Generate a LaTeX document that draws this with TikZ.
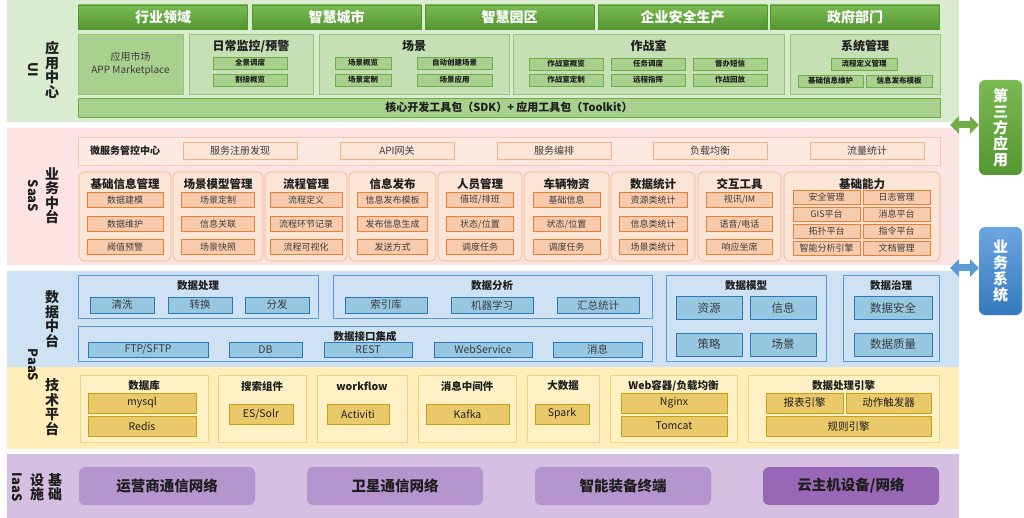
\documentclass[tikz,border=0pt]{standalone}
\usepackage{fontspec}
\setmainfont{Noto Sans CJK SC}
\usetikzlibrary{arrows.meta,shadows}

\definecolor{gband}{RGB}{218,236,208}
\definecolor{gpan}{RGB}{197,224,180}
\definecolor{gpanline}{RGB}{150,198,118}
\definecolor{gsub}{RGB}{169,209,142}
\definecolor{gsubline}{RGB}{112,173,71}
\definecolor{gtop}{RGB}{122,186,82}
\definecolor{gbot}{RGB}{84,150,50}
\definecolor{pband}{RGB}{253,228,228}
\definecolor{msfill}{RGB}{252,234,226}
\definecolor{msline}{RGB}{246,200,180}
\definecolor{ppan}{RGB}{251,229,214}
\definecolor{ppanline}{RGB}{244,177,131}
\definecolor{psub}{RGB}{248,203,173}
\definecolor{psubline}{RGB}{237,125,49}
\definecolor{bband}{RGB}{207,226,243}
\definecolor{bpanline}{RGB}{91,155,213}
\definecolor{bsub}{RGB}{150,200,226}
\definecolor{bsubline}{RGB}{46,117,182}
\definecolor{yband}{RGB}{255,238,186}
\definecolor{ypan}{RGB}{255,241,198}
\definecolor{ypanline}{RGB}{240,210,130}
\definecolor{ysub}{RGB}{233,201,106}
\definecolor{ysubline}{RGB}{200,160,20}
\definecolor{vband}{RGB}{214,192,226}
\definecolor{vsub}{RGB}{181,149,205}
\definecolor{vdark}{RGB}{152,104,182}
\definecolor{btop}{RGB}{108,166,224}
\definecolor{bbot}{RGB}{52,122,190}
\definecolor{txt}{RGB}{30,30,30}
\definecolor{subtxt}{RGB}{60,60,60}

\tikzset{
  every node/.style={inner sep=0pt, outer sep=0pt, text=txt},
  shd/.style={drop shadow={opacity=0.25, shadow xshift=0.8pt, shadow yshift=-0.8pt}},
  layer/.style={align=center, font=\fontsize{14}{14.5}\selectfont\bfseries},
  layerlat/.style={rotate=-90, font=\fontsize{13}{13}\selectfont\bfseries},
  hdr/.style={top color=gtop, bottom color=gbot, draw=gbot, text=white,
    minimum width=169, minimum height=24, font=\fontsize{14}{14}\selectfont\bfseries},
  gpanel/.style={fill=gpan, draw=gpanline, line width=0.8pt, minimum height=60},
  gtitle/.style={font=\fontsize{12}{12}\selectfont\bfseries},
  gbox/.style={fill=gsub, draw=gsubline, line width=0.6pt, minimum height=12,
    font=\fontsize{7.5}{7.5}\selectfont\bfseries},
  msbox/.style={fill=ppan, draw=ppanline, shd, minimum width=114, minimum height=17,
    text=subtxt, font=\fontsize{10}{10}\selectfont},
  ppanel/.style={fill=ppan, draw=ppanline, rounded corners=5pt, line width=0.6pt, minimum height=89},
  ptitle/.style={font=\fontsize{11.5}{11.5}\selectfont\bfseries},
  pbox/.style={fill=psub, draw=psubline, line width=0.8pt, minimum height=15,
    text=subtxt, font=\fontsize{9}{9}\selectfont},
  bpanel/.style={draw=bpanline, line width=0.6pt},
  btitle/.style={font=\fontsize{10.5}{10.5}\selectfont\bfseries},
  bbox/.style={fill=bsub, draw=bsubline, line width=0.8pt, shd, minimum height=16,
    text=subtxt, font=\fontsize{10.5}{10.5}\selectfont},
  ypanel/.style={fill=ypan, draw=ypanline, line width=0.6pt, minimum height=67},
  ytitle/.style={font=\fontsize{10.5}{10.5}\selectfont\bfseries},
  ybox/.style={fill=ysub, draw=ysubline, line width=0.8pt, shd, minimum height=20,
    font=\fontsize{10.5}{10.5}\selectfont},
  vbox/.style={fill=vsub, rounded corners=6pt, minimum width=176, minimum height=38,
    font=\fontsize{14.5}{14.5}\selectfont\bfseries},
  sidebox/.style={rounded corners=6pt, minimum width=43, align=center, text=white,
    font=\fontsize{15}{16}\selectfont\bfseries},
  sidearr/.style={line width=7pt, {Triangle[width=17pt,length=9pt]}-{Triangle[width=17pt,length=9pt]}}
}

\begin{document}
\begin{tikzpicture}[x=1pt,y=-1pt]
\useasboundingbox (0,0) rectangle (1024,518);

\fill[gband] (7,0) rectangle (959,122);
\fill[pband] (7,128) rectangle (959,265);
\fill[bband] (7,271) rectangle (959,367);
\fill[yband] (7,367) rectangle (959,449);
\fill[vband] (7,454) rectangle (959,518);

% layer names
\node[layer] (lapp) at (52,70) {应\\用\\中\\心};
\node[layerlat] (lui) at (33,70) {UI};
\node[layer] (lsaas) at (52,196) {业\\务\\中\\台};
\node[layerlat] (lsaaslat) at (33,196) {SaaS};
\node[layer] (ldata) at (52,319) {数\\据\\中\\台};
\node[layerlat] (lpaas) at (33,365) {PaaS};
\node[layer] (ltech) at (52,407) {技\\术\\平\\台};
\node[layer] (lbase) at (55,487) {基\\础};
\node[layer] (lfac) at (37,487) {设\\施};
\node[layerlat] (liaas) at (17,487) {IaaS};

% UI
\foreach \cx/\t [count=\i] in {163/行业领域,336.5/智慧城市,509.5/智慧园区,682.5/企业安全生产,855/政府部门}
  \node[hdr] (h\i) at (\cx,17) {\t};

\node[gpanel, fill=gsub, minimum width=105, align=center, text=subtxt,
  font=\fontsize{10}{12.5}\selectfont] (mkt) at (130.5,64) {应用市场\\APP Marketplace};

\foreach \cx/\w/\t [count=\i] in {251/124/{日常监控/预警},414/190/场景,648.5/271/作战室,865/150/系统管理}
{
  \node[gpanel, minimum width=\w] (p\i) at (\cx,64) {};
  \node[gtitle] (pt\i) at (\cx,46) {\t};
}

\foreach \cx/\cy/\w/\t [count=\i] in {250/63/74/全景调度,250/80/74/割接概览,
  363/63/56/场景概览,454.5/63/75/自动创建场景,363/80/56/场景定制,454.5/80/75/场景应用,
  566/64/74/作战室概览,648/64/74/任务调度,730/64/74/督办短信,
  566/80/74/作战室定制,648/80/74/远程指挥,730/80/74/作战回放,
  864/64/66/流程定义管理,830.5/81/65/基础信息维护,899/81/66/信息发布模板}
  \node[gbox, minimum width=\w] (g\i) at (\cx,\cy) {\t};

\node[gbox, minimum width=862, minimum height=19, font=\fontsize{11}{11}\selectfont\bfseries]
  (sdk) at (509,107.5) {核心开发工具包（SDK）+ 应用工具包（Toolkit）};

% SaaS
\node[fill=msfill, draw=msline, minimum width=862, minimum height=28] (ms) at (509,151) {};
\node[font=\fontsize{10}{10}\selectfont\bfseries] (mst) at (125,151) {微服务管控中心};
\foreach \cx/\t [count=\i] in {240/服务注册发现,397/API网关,554/服务编排,710/负载均衡,867/流量统计}
  \node[msbox] (ms\i) at (\cx,150.5) {\t};

\foreach \cx/\w/\bw/\ti/\a/\b/\c [count=\i] in {
  125/92/76/基础信息管理/数据建模/数据维护/阈值预警,
  218/90/73/场景模型管理/场景定制/信息关联/场景快照,
  306/82/72/流程管理/流程定义/流程环节记录/流程可视化,
  392.5/87/70/信息发布/信息发布模板/发布信息生成/发送方式,
  480/84/67/人员管理/{值班/排班}/{状态/位置}/调度任务,
  566.5/85/67/车辆物资/基础信息/{状态/位置}/调度任务,
  653/84/68/数据统计/资源类统计/信息类统计/场景类统计,
  739.5/83/66/交互工具/{视讯/IM}/{语音/电话}/响应坐席}
{
  \node[ppanel, minimum width=\w] (m\i) at (\cx,216.5) {};
  \node[ptitle] (mt\i) at (\cx,184) {\ti};
  \node[pbox, minimum width=\bw] (m\i a) at (\cx,200) {\a};
  \node[pbox, minimum width=\bw] (m\i b) at (\cx,224) {\b};
  \node[pbox, minimum width=\bw] (m\i c) at (\cx,247) {\c};
}

\node[ppanel, minimum width=156] (cap) at (862,216.5) {};
\node[ptitle] (capt) at (862,184) {基础能力};
\foreach \cx/\cy/\t [count=\i] in {826.5/197/安全管理,896.5/197/日志管理,826.5/214/GIS平台,896.5/214/消息平台,
  826.5/231/拓扑平台,896.5/231/指令平台,826.5/248/智能分析引擎,896.5/248/文档管理}
  \node[pbox, minimum width=67, minimum height=14] (cap\i) at (\cx,\cy) {\t};

% data
\node[bpanel, minimum width=240, minimum height=43] (dproc) at (198,296.5) {};
\node[btitle] (dproct) at (198,286) {数据处理};
\foreach \cx/\t [count=\i] in {122/清洗,200/转换,277/分发}
  \node[bbox, minimum width=64] (dp\i) at (\cx,305) {\t};

\node[bpanel, minimum width=319, minimum height=43] (dana) at (492.5,296.5) {};
\node[btitle] (danat) at (492,286) {数据分析};
\foreach \cx/\t [count=\i] in {386/索引库,492/机器学习,598/汇总统计}
  \node[bbox, minimum width=82] (da\i) at (\cx,305) {\t};

\node[bpanel, minimum width=574, minimum height=35] (dint) at (365,343.5) {};
\node[btitle] (dintt) at (365,336) {数据接口集成};
\foreach \cx/\w/\t [count=\i] in {148/120/{FTP/SFTP},265.5/73/DB,368/88/REST,483/98/WebService,597.5/89/消息}
  \node[bbox, minimum width=\w, minimum height=15] (di\i) at (\cx,349.5) {\t};

\node[bpanel, minimum width=160, minimum height=86] (dmod) at (746,318) {};
\node[btitle] (dmodt) at (746,286) {数据模型};
\foreach \cx/\cy/\t [count=\i] in {709/308/资源,783/308/信息,709/344.5/策略,783/344.5/场景}
  \node[bbox, minimum width=66, minimum height=23, font=\fontsize{11.5}{11.5}\selectfont] (dm\i) at (\cx,\cy) {\t};

\node[bpanel, minimum width=96, minimum height=86] (dgov) at (891,318) {};
\node[btitle] (dgovt) at (891,286) {数据治理};
\foreach \cy/\t [count=\i] in {308/数据安全,344.5/数据质量}
  \node[bbox, minimum width=78, minimum height=23, font=\fontsize{11.5}{11.5}\selectfont] (dg\i) at (893,\cy) {\t};

% tech
\foreach \cx/\w/\t [count=\i] in {144/128/数据库,262/88/搜索组件,362/90/workflow,467/98/消息中间件,
  563/72/大数据,673.5/127/{Web容器/负载均衡},843.5/191/数据处理引擎}
{
  \node[ypanel, minimum width=\w] (t\i) at (\cx,408.5) {};
  \node[ytitle] (tt\i) at (\cx,386) {\t};
}
\node[ybox, minimum width=108] (mysql) at (142,403) {mysql};
\node[ybox, minimum width=108] (redis) at (142,426) {Redis};
\node[ybox, minimum width=64] (es) at (261,414) {ES/Solr};
\node[ybox, minimum width=62] (act) at (358,414) {Activiti};
\node[ybox, minimum width=83] (kafka) at (467.5,414) {Kafka};
\node[ybox, minimum width=54] (spark) at (562,414) {Spark};
\node[ybox, minimum width=106] (nginx) at (674,403) {Nginx};
\node[ybox, minimum width=106] (tomcat) at (674,426) {Tomcat};
\node[ybox, minimum width=77] (rep) at (804.5,403) {报表引擎};
\node[ybox, minimum width=85] (trig) at (888.5,403) {动作触发器};
\node[ybox, minimum width=165] (rule) at (848.5,426) {规则引擎};

% IaaS
\foreach \cx/\t [count=\i] in {167/运营商通信网络,395/卫星通信网络,623/智能装备终端}
  \node[vbox] (v\i) at (\cx,486) {\t};
\node[vbox, fill=vdark] (v4) at (851,486) {云主机设备/网络};

% side systems
\node[sidebox, top color=gtop, bottom color=gbot, minimum height=95] (third) at (1000.5,127.5) {第\\三\\方\\应\\用};
\node[sidebox, top color=btop, bottom color=bbot, minimum height=88] (biz) at (1000.5,271) {业\\务\\系\\统};
\coordinate (gend) at (950,125);
\coordinate (bend) at (950,268);
\draw[sidearr, gsubline] (gend) -- (third.west |- gend);
\draw[sidearr, bpanline] (bend) -- (biz.west |- bend);
\end{tikzpicture}
\end{document}
